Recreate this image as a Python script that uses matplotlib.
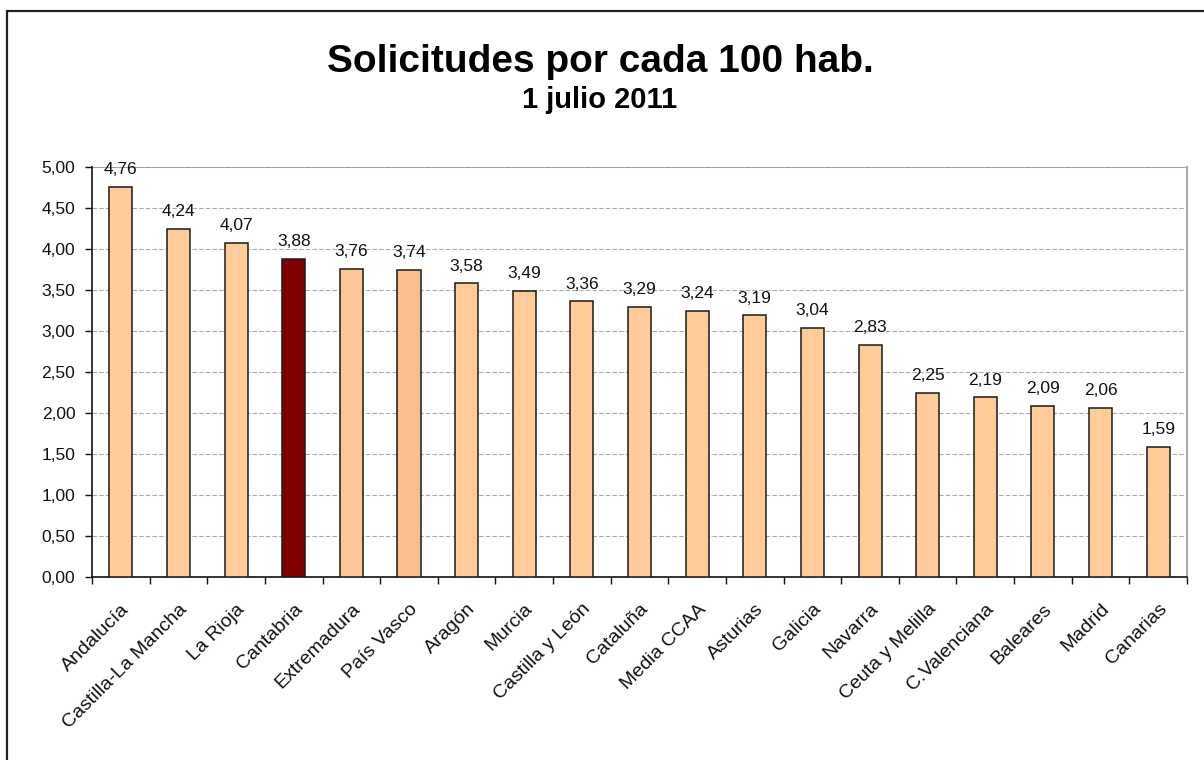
import matplotlib
matplotlib.use("Agg")
import matplotlib.pyplot as plt
from matplotlib.patches import Rectangle
from matplotlib.ticker import MultipleLocator, FuncFormatter

plt.rcParams['font.family'] = ['Liberation Sans', 'DejaVu Sans']

regions = ["Andalucía", "Castilla-La Mancha", "La Rioja", "Cantabria", "Extremadura",
           "País Vasco", "Aragón", "Murcia", "Castilla y León", "Cataluña", "Media CCAA",
           "Asturias", "Galicia", "Navarra", "Ceuta y Melilla", "C.Valenciana",
           "Baleares", "Madrid", "Canarias"]
values = [4.76, 4.24, 4.07, 3.88, 3.76, 3.74, 3.58, 3.49, 3.36, 3.29, 3.24,
          3.19, 3.04, 2.83, 2.25, 2.19, 2.09, 2.06, 1.59]
colors = ["#FFCC99"] * len(regions)
colors[3] = "#800000"
colors[4] = "#FCC795"
colors[5] = "#F9C08D"

fig = plt.figure(figsize=(12.04, 7.6), dpi=100)
fig.patches.append(Rectangle((7/1204, -0.1), 1.2, 1 - 11/760 + 0.1, transform=fig.transFigure,
                             fill=False, edgecolor="#222222", linewidth=1.6, zorder=0))

ax = fig.add_axes([92/1204, 1 - 577/760, (1187 - 92)/1204, (577 - 167)/760])
x = list(range(len(regions)))
ax.bar(x, values, width=0.4, color=colors, edgecolor="#1a1a1a", linewidth=1.1, zorder=3)
for xi, v in zip(x, values):
    ax.text(xi, v + 0.12, f"{v:.2f}".replace(".", ","), ha="center", va="bottom",
            fontsize=12.5, color="#111111", zorder=4)

ax.set_xlim(-0.5, len(regions) - 0.5)
ax.set_ylim(0, 5)
ax.yaxis.set_major_locator(MultipleLocator(0.5))
ax.yaxis.set_major_formatter(FuncFormatter(lambda v, p: f"{v:.2f}".replace(".", ",")))
ax.grid(axis="y", color="#aaaaaa", linestyle=(0, (4, 2)), linewidth=0.8, zorder=0)
ax.set_axisbelow(True)
ax.axhline(5, color="#999999", linewidth=1.2, zorder=1)

ax.set_xticks([i - 0.5 for i in range(len(regions) + 1)], minor=False)
ax.set_xticklabels([])
ax.set_xticks(x, minor=True)
ax.set_xticklabels(regions, minor=True, rotation=45, ha="right", va="top",
                   rotation_mode="anchor", fontsize=14, color="#111111")
ax.tick_params(axis="x", which="minor", length=0, pad=17)
ax.tick_params(axis="x", which="major", length=5, width=1, color="#111111", direction="out")
ax.tick_params(axis="y", length=5, width=1, color="#111111", labelsize=12.5,
               labelcolor="#111111", pad=7)

for s in ["left", "bottom"]:
    ax.spines[s].set_color("#111111")
    ax.spines[s].set_linewidth(1.2)
ax.spines["top"].set_visible(False)
ax.spines["right"].set_color("#aaaaaa")
ax.spines["right"].set_linewidth(1.5)

fig.text(600/1204, 1 - 62/760, "Solicitudes por cada 100 hab.", ha="center", va="center",
         fontsize=28, fontweight="bold", color="#000000")
fig.text(600/1204, 1 - 100/760, "1 julio 2011", ha="center", va="center",
         fontsize=21, fontweight="bold", color="#000000")

fig.savefig("out.png", dpi=100)
